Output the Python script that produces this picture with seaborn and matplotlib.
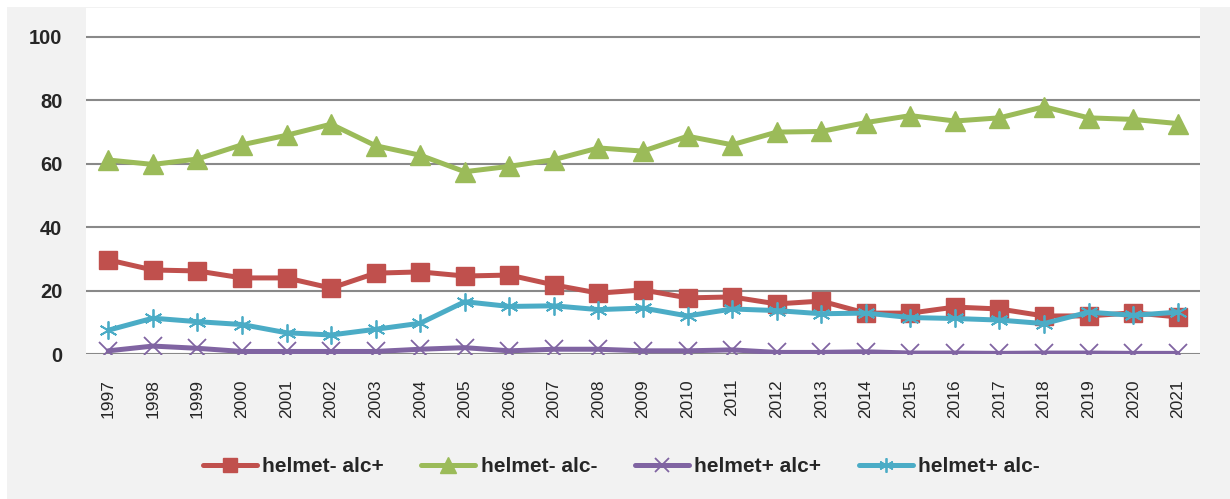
import pandas as pd
import seaborn as sns
import matplotlib.pyplot as plt
from matplotlib.patches import Rectangle

# Data
years = list(range(1997, 2022))
helmet_minus_alc_plus = [29.7, 26.5, 26.2, 24.0, 24.0, 20.8, 25.5, 25.9, 24.6, 24.9,
                         21.8, 19.2, 20.2, 17.7, 18.0, 15.8, 16.7, 12.9, 12.9, 14.8,
                         14.2, 12.0, 12.0, 13.0, 11.7]
helmet_minus_alc_minus = [61.2, 59.8, 61.5, 66.0, 69.0, 72.5, 65.7, 62.7, 57.5, 59.2,
                          61.3, 65.0, 64.0, 68.7, 66.0, 70.0, 70.2, 73.0, 75.2, 73.5,
                          74.5, 78.0, 74.5, 74.0, 72.7]
helmet_plus_alc_plus = [1.0, 2.5, 1.8, 0.8, 0.8, 0.8, 0.8, 1.5, 2.0, 1.0,
                        1.5, 1.5, 1.0, 1.0, 1.3, 0.5, 0.5, 0.7, 0.3, 0.3,
                        0.2, 0.3, 0.3, 0.2, 0.2]
helmet_plus_alc_minus = [7.5, 11.3, 10.2, 9.3, 6.7, 6.0, 7.8, 9.7, 16.5, 15.0,
                         15.2, 14.0, 14.5, 12.0, 14.2, 13.7, 12.7, 12.9, 11.5, 11.2,
                         10.7, 9.6, 13.2, 12.2, 13.2]

series = {
    "helmet- alc+": helmet_minus_alc_plus,
    "helmet- alc-": helmet_minus_alc_minus,
    "helmet+ alc+": helmet_plus_alc_plus,
    "helmet+ alc-": helmet_plus_alc_minus,
}
colors = {"helmet- alc+": "#C0504D", "helmet- alc-": "#9BBB59",
          "helmet+ alc+": "#8064A2", "helmet+ alc-": "#4BACC6"}
markers = {"helmet- alc+": "s", "helmet- alc-": "^",
           "helmet+ alc+": "x", "helmet+ alc-": (6, 2, 0)}
msizes = {"helmet- alc+": 13, "helmet- alc-": 14, "helmet+ alc+": 13, "helmet+ alc-": 13}
mews = {"helmet- alc+": 1, "helmet- alc-": 1, "helmet+ alc+": 1.3, "helmet+ alc-": 1.3}

sns.set_theme(style="white")
plt.rcParams["font.family"] = ["Liberation Sans", "DejaVu Sans"]

fig = plt.figure(figsize=(12.3, 4.99), dpi=100, facecolor="white")
fig.patches.append(Rectangle((7 / 1230, 0), 1, 1 - 7 / 499, transform=fig.transFigure,
                             facecolor="#F2F2F2", edgecolor="none", zorder=-10))
ax = fig.add_axes([86 / 1230, 1 - 354 / 499, (1200 - 86) / 1230, (354 - 8) / 499])
ax.set_facecolor("white")

for name, vals in series.items():
    df = pd.DataFrame({"year": years, "value": vals})
    sns.lineplot(data=df, x="year", y="value", ax=ax, color=colors[name],
                 linewidth=3.6, marker=markers[name], markersize=msizes[name],
                 markeredgecolor=colors[name], markerfacecolor=colors[name],
                 markeredgewidth=mews[name], label=name, zorder=3)

ax.set_xlim(1996.5, 2021.5)
ax.set_ylim(0, 100 * 346 / 317)
ax.set_yticks([0, 20, 40, 60, 80, 100])
ax.set_xticks(years)
ax.set_xticklabels([str(y) for y in years], rotation=90, fontsize=12.5, color="#262626")
ax.tick_params(axis="x", length=0, pad=18)
ax.tick_params(axis="y", length=0, pad=17, labelsize=14.5)
for lab in ax.get_yticklabels():
    lab.set_fontweight("bold")
ax.yaxis.grid(True, color="#898989", linewidth=1.5)
ax.set_axisbelow(True)
for s in ax.spines.values():
    s.set_visible(False)
ax.set_xlabel("")
ax.set_ylabel("")

ax.legend_.remove()
handles, labels = ax.get_legend_handles_labels()
fig.legend(handles, labels, loc="center", bbox_to_anchor=(0.505, 1 - 467 / 499), ncol=4,
           frameon=False, prop={"weight": "bold", "size": 15}, handlelength=2.6,
           handletextpad=0.25, columnspacing=1.8, markerscale=0.8)

fig.savefig("out.png", dpi=100, facecolor=fig.get_facecolor())
